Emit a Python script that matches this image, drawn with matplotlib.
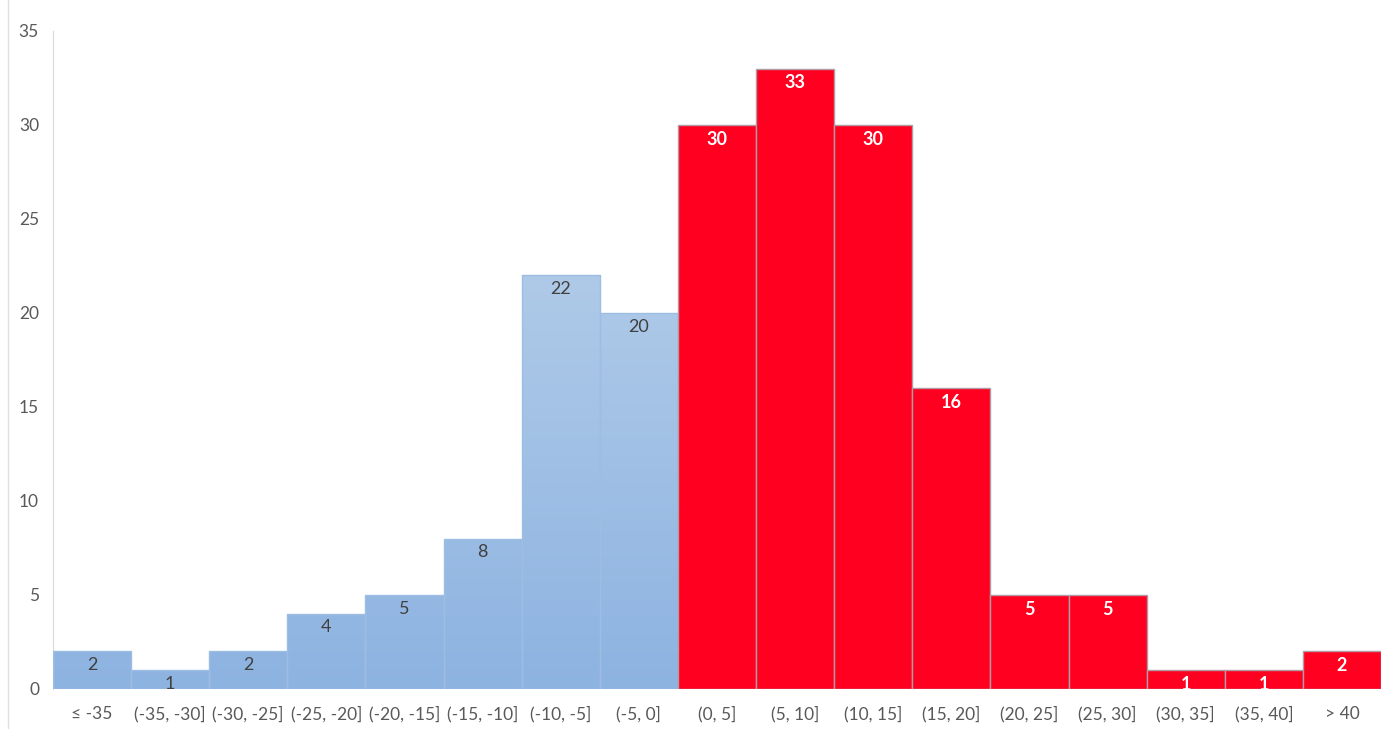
import matplotlib.pyplot as plt
import numpy as np
from matplotlib.lines import Line2D
from matplotlib.colors import LinearSegmentedColormap

bins = ['≤ -35', '(-35, -30]', '(-30, -25]', '(-25, -20]', '(-20, -15]', '(-15, -10]',
        '(-10, -5]', '(-5, 0]', '(0, 5]', '(5, 10]', '(10, 15]', '(15, 20]',
        '(20, 25]', '(25, 30]', '(30, 35]', '(35, 40]', '> 40']
counts = [2, 1, 2, 4, 5, 8, 22, 20, 30, 33, 30, 16, 5, 5, 1, 1, 2]
n_neg = 8  # first eight bins are the negative side

plt.rcParams['font.family'] = ['Lato', 'DejaVu Sans']

fig = plt.figure(figsize=(13.86, 7.29), dpi=100)
ax = fig.add_axes([0.0382, 0.0549, 0.9582, 0.9026])

x = np.arange(len(counts))
colors = ['none'] * n_neg + ['#ff0020'] * (len(counts) - n_neg)
edges = ['#9dbde3'] * n_neg + ['#b09aa4'] * (len(counts) - n_neg)
bars = ax.bar(x, counts, width=1.0, color=colors, edgecolor=edges, linewidth=1.0, zorder=3)

# blue side gets a vertical gradient fill, clipped to each bar
grad = np.linspace(0, 1, 256).reshape(-1, 1)
cmap = LinearSegmentedColormap.from_list('blu', ['#8db3e1', '#afcae8'])
top = max(counts[:n_neg])
for b in bars[:n_neg]:
    im = ax.imshow(grad, cmap=cmap, origin='lower', aspect='auto',
                   extent=(-0.5, n_neg - 0.5, 0, top), zorder=2)
    im.set_clip_path(b)

for i, (b, v) in enumerate(zip(bars, counts)):
    if i < n_neg:
        ax.text(b.get_x() + 0.5, v - 0.3, str(v), ha='center', va='top',
                fontsize=13, color='#404040', zorder=4)
    else:
        ax.text(b.get_x() + 0.5, v - 0.3, str(v), ha='center', va='top',
                fontsize=13, color='white', fontweight='bold', zorder=4)

ax.set_xlim(-0.5, len(counts) - 0.5)
ax.set_ylim(0, 35)
ax.set_yticks(range(0, 36, 5))
ax.set_xticks(x)
ax.set_xticklabels(bins)
ax.tick_params(axis='both', length=0, labelsize=12.5, colors='#595959')
ax.tick_params(axis='x', pad=12)
ax.tick_params(axis='y', pad=10)

for s in ['top', 'right', 'bottom']:
    ax.spines[s].set_visible(False)
ax.spines['left'].set_color('#d9d9d9')

fig.add_artist(Line2D([0.006, 0.006], [0.0, 1.0], color='#e0e0e0', lw=1.0,
                      transform=fig.transFigure))

fig.savefig('out.png', dpi=100)
